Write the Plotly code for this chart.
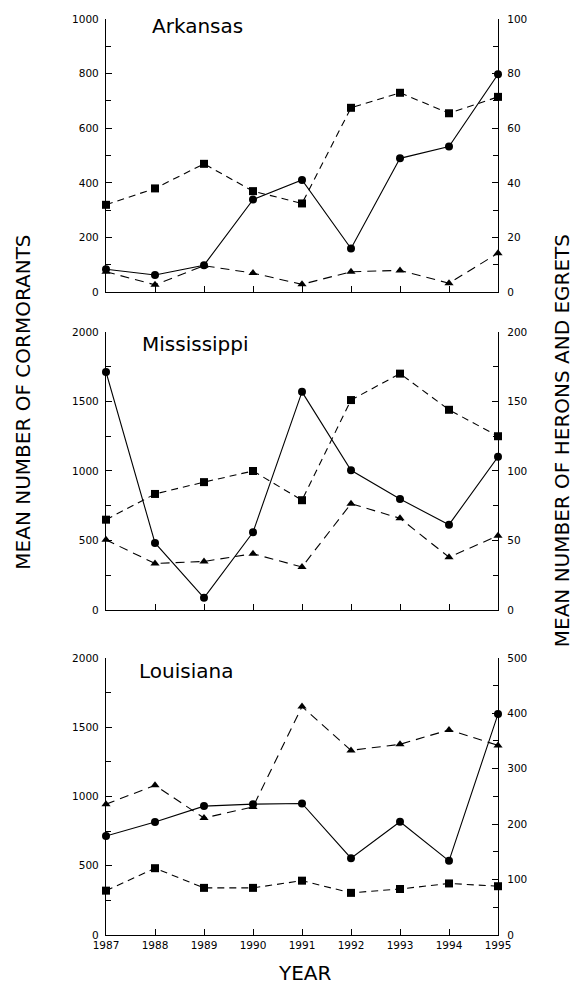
import plotly.graph_objects as go

years = [1987, 1988, 1989, 1990, 1991, 1992, 1993, 1994, 1995]
year_labels = ["1987", "1988", "1989", "1990", "1991", "1992", "1993", "1994", "1995"]

# Arkansas
ark_cormorants = [84, 63, 99, 339, 411, 160, 490, 533, 798]
ark_herons_sq = [32, 38, 47, 37, 32.5, 67.5, 73, 65.5, 71.5]
ark_herons_tri = [7.5, 2.7, 9.7, 7, 2.9, 7.5, 8, 3.3, 14.3]

# Mississippi
mis_cormorants = [1712, 483, 88, 560, 1569, 1005, 798, 614, 1102]
mis_herons_sq = [65, 83.5, 92, 100, 79, 151, 170, 144, 125]
mis_herons_tri = [50.5, 33.5, 35, 40.5, 31, 76.5, 66, 38, 53.5]

# Louisiana
lou_cormorants = [714, 815, 930, 944, 949, 554, 817, 535, 1594]
lou_herons_sq = [80, 120.5, 85, 85, 98, 76, 83, 93, 88]
lou_herons_tri = [236, 270, 211, 231, 412, 333, 344, 370, 342]

panels = [
    ("Arkansas", ark_cormorants, ark_herons_sq, ark_herons_tri, 1000, 200, 100, 100, 20, 10),
    ("Mississippi", mis_cormorants, mis_herons_sq, mis_herons_tri, 2000, 500, 250, 200, 50, 25),
    ("Louisiana", lou_cormorants, lou_herons_sq, lou_herons_tri, 2000, 500, 250, 500, 100, 50),
]

domains = [(0.7017, 1.0), (0.3547, 0.6584), (0.0, 0.3026)]

fig = go.Figure()
FONT = "DejaVu Sans, Liberation Sans, Arial, sans-serif"
line_w = 1.1

layout = dict(
    width=565, height=979,
    margin=dict(l=98, r=75, t=5, b=52),
    paper_bgcolor="white", plot_bgcolor="white",
    showlegend=False,
    font=dict(family=FONT, color="black", size=11),
)

for i, (name, corm, sq, tri, lmax, ldt, lmin, rmax, rdt, rmin) in enumerate(panels):
    n = i + 1
    xa = "x" if n == 1 else f"x{n}"
    ya_left = 2 * i + 1
    ya_right = 2 * i + 2
    yl = "y" if ya_left == 1 else f"y{ya_left}"
    yr = f"y{ya_right}"

    fig.add_trace(go.Scatter(
        x=years, y=sq, xaxis=xa, yaxis=yr, mode="lines+markers",
        line=dict(color="black", width=line_w, dash="7px,5px"),
        marker=dict(symbol="square", size=8, color="black"),
        cliponaxis=False, name="squares"))
    fig.add_trace(go.Scatter(
        x=years, y=tri, xaxis=xa, yaxis=yr, mode="lines+markers",
        line=dict(color="black", width=line_w, dash="9px,6px"),
        marker=dict(symbol="triangle-up", size=8, color="black"),
        cliponaxis=False, name="triangles"))
    fig.add_trace(go.Scatter(
        x=years, y=corm, xaxis=xa, yaxis=yl, mode="lines+markers",
        line=dict(color="black", width=line_w),
        marker=dict(symbol="circle", size=8, color="black"),
        cliponaxis=False, name="cormorants"))

    xkey = "xaxis" if n == 1 else f"xaxis{n}"
    layout[xkey] = dict(
        domain=[0, 1], anchor=yl, range=[1987, 1995],
        tickvals=years, ticktext=year_labels,
        showticklabels=(n == 3),
        ticks="inside", ticklen=6, tickcolor="black", tickwidth=1,
        showline=True, linecolor="black", linewidth=1.3,
        showgrid=False, zeroline=False,
        tickfont=dict(size=10.5, family=FONT),
    )
    lkey = "yaxis" if ya_left == 1 else f"yaxis{ya_left}"
    layout[lkey] = dict(
        domain=list(domains[i]), anchor=xa, range=[0, lmax],
        tickmode="linear", tick0=0, dtick=ldt,
        ticks="inside", ticklen=6, tickcolor="black",
        minor=dict(dtick=lmin, ticks="inside", ticklen=5, tickcolor="black"),
        showline=True, linecolor="black", linewidth=1.3,
        showgrid=False, zeroline=False,
        tickfont=dict(size=10.5, family=FONT), ticklabelstandoff=4,
    )
    layout[f"yaxis{ya_right}"] = dict(
        domain=list(domains[i]), anchor=xa, overlaying=yl, side="right",
        range=[0, rmax],
        tickmode="linear", tick0=0, dtick=rdt,
        ticks="inside", ticklen=6, tickcolor="black",
        minor=dict(dtick=rmin, ticks="inside", ticklen=5, tickcolor="black"),
        showline=True, linecolor="black", linewidth=1.3,
        showgrid=False, zeroline=False,
        tickfont=dict(size=10.5, family=FONT), ticklabelstandoff=6,
    )

fig.update_layout(**layout)

title_pos = [(0.112, 0.9924), (0.087, 0.6453), (0.079, 0.2885)]
for (name, *_), (tx, ty) in zip(panels, title_pos):
    fig.add_annotation(text=name, x=tx, y=ty, xref="paper", yref="paper",
                       xanchor="left", yanchor="middle", showarrow=False,
                       font=dict(size=20, family=FONT, color="black"))

fig.add_annotation(text="MEAN NUMBER OF CORMORANTS", x=-0.214, y=0.5813,
                   xref="paper", yref="paper", textangle=-90, showarrow=False,
                   xanchor="center", yanchor="middle",
                   font=dict(size=20, family=FONT, color="black"))
fig.add_annotation(text="MEAN NUMBER OF HERONS AND EGRETS", x=1.163, y=0.540,
                   xref="paper", yref="paper", textangle=-90, showarrow=False,
                   xanchor="center", yanchor="middle",
                   font=dict(size=20, family=FONT, color="black"))
fig.add_annotation(text="YEAR", x=0.508, y=-0.042, xref="paper", yref="paper",
                   showarrow=False, xanchor="center", yanchor="middle",
                   font=dict(size=20, family=FONT, color="black"))

fig.write_html("out.html")
